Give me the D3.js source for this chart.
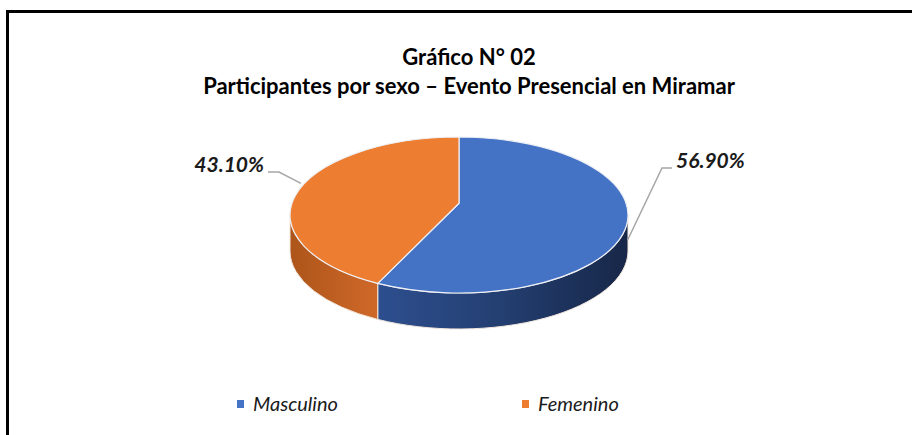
<!DOCTYPE html>
<html>
<head>
<meta charset="utf-8">
<script src="https://cdn.jsdelivr.net/npm/d3@7"></script>
<style>
  body { margin: 0; background: #fff; }
  svg { display: block; }
  text { font-family: Lato, "Open Sans", sans-serif; }
</style>
</head>
<body>
<div id="chart"></div>
<script>
// data
var categories = ["Masculino", "Femenino"];
var values = [56.9, 43.1];
var colors = ["#4472c4", "#ed7d31"];
var titleLines = ["Gráfico N° 02", "Participantes por sexo – Evento Presencial en Miramar"];

var width = 912, height = 435;

var svg = d3.select("#chart").append("svg")
    .attr("width", width)
    .attr("height", height);

// frame (only left and top visible in the crop)
svg.append("path")
    .attr("d", "M7.5," + height + "V11.5H" + width)
    .attr("fill", "none")
    .attr("stroke", "#000")
    .attr("stroke-width", 3);

// title
svg.selectAll(".title")
    .data(titleLines)
  .enter().append("text")
    .attr("class", "title")
    .attr("x", 469)
    .attr("y", function(d, i) { return 65 + i * 29; })
    .attr("text-anchor", "middle")
    .attr("font-weight", "bold")
    .attr("font-size", "22px")
    .attr("fill", "#000")
    .text(function(d) { return d; });

// pie geometry, with a little perspective (k) like the 3D pie in Excel
var cx = 459, cy = 215, rx = 169, ry = 78, depth = 36, k = 0.15;

var pie = d3.pie().sort(null).startAngle(0).endAngle(2 * Math.PI);
var arcs = pie(values);

// project an angle on the pie's circle to the screen
function proj(a) {
  var w = 1 + k * Math.cos(a);
  var X = Math.sin(a) / w, Y = -Math.cos(a) / w;
  return [cx + rx * X * Math.sqrt(1 - k * k), cy + ry * (Y * (1 - k * k) - k)];
}
// angle of a screen point on the ellipse
function param(p) {
  var t = Math.atan2((p[0] - cx) / rx, -(p[1] - cy) / ry);
  return t < 0 ? t + 2 * Math.PI : t;
}
var apex = [cx, cy - ry * k];
var sideFrom = Math.acos(-k), sideTo = 2 * Math.PI - Math.acos(-k);

var defs = svg.append("defs");
var sideGrad = [
  { x1: 380, x2: cx + rx, stops: [["0%", "#2d4e8e"], ["50%", "#233e70"], ["100%", "#172748"]] },
  { x1: cx - rx, x2: 380, stops: [["0%", "#ad551a"], ["100%", "#d0692a"]] }
];
sideGrad.forEach(function(s, i) {
  var g = defs.append("linearGradient")
      .attr("id", "side" + i)
      .attr("gradientUnits", "userSpaceOnUse")
      .attr("x1", s.x1).attr("x2", s.x2)
      .attr("y1", 0).attr("y2", 0);
  s.stops.forEach(function(st) {
    g.append("stop").attr("offset", st[0]).attr("stop-color", st[1]);
  });
});

// side walls (front half only)
var sides = svg.append("g");
arcs.forEach(function(d, i) {
  var a0 = Math.max(d.startAngle, sideFrom),
      a1 = Math.min(d.endAngle, sideTo);
  if (a1 <= a0) return;
  var p0 = proj(a0), p1 = proj(a1);
  var large = (param(p1) - param(p0) + 2 * Math.PI) % (2 * Math.PI) > Math.PI ? 1 : 0;
  var p = "M" + p0 + "A" + rx + "," + ry + " 0 " + large + " 1 " + p1 +
      "L" + p1[0] + "," + (p1[1] + depth) +
      "A" + rx + "," + ry + " 0 " + large + " 0 " + p0[0] + "," + (p0[1] + depth) + "Z";
  sides.append("path")
      .attr("d", p)
      .attr("fill", "url(#side" + i + ")")
      .attr("stroke", "#f2e6dc")
      .attr("stroke-width", 1)
      .attr("stroke-linejoin", "round");
});

// top faces
svg.append("g").selectAll("path")
    .data(arcs)
  .enter().append("path")
    .attr("d", function(d) {
      var p0 = proj(d.startAngle), p1 = proj(d.endAngle);
      var span = (param(p1) - param(p0) + 2 * Math.PI) % (2 * Math.PI);
      if (span === 0) span = 2 * Math.PI;
      var large = span > Math.PI ? 1 : 0;
      return "M" + apex + "L" + p0 + "A" + rx + "," + ry + " 0 " + large + " 1 " + p1 + "Z";
    })
    .attr("fill", function(d, i) { return colors[i]; })
    .attr("stroke", "#eef0f6")
    .attr("stroke-width", 1.2)
    .attr("stroke-linejoin", "round");

// data labels with leader lines
var fmt = function(v) { return v.toFixed(2) + "%"; };
var labelOffsets = [
  { dy: depth * 0.55, elbow: [662, 168], end: 672, anchor: "start" },
  { dy: -4, elbow: [279, 172], end: 268, anchor: "end" }
];
arcs.forEach(function(d, i) {
  var m = (d.startAngle + d.endAngle) / 2;
  var pm = proj(m);
  var o = labelOffsets[i];
  var line = d3.line();
  svg.append("path")
      .attr("d", line([[pm[0], pm[1] + o.dy], o.elbow, [o.end, o.elbow[1]]]))
      .attr("fill", "none")
      .attr("stroke", "#a6a6a6")
      .attr("stroke-width", 1.5);
  svg.append("text")
      .attr("x", i === 0 ? o.end + 4 : o.end - 4)
      .attr("y", o.elbow[1])
      .attr("text-anchor", o.anchor)
      .attr("font-size", "21px")
      .attr("font-weight", "bold")
      .attr("font-style", "italic")
      .attr("fill", "#1a1a1a")
      .text(fmt(d.data));
});

// legend
var legendX = d3.scalePoint().domain(categories).range([237, 522]);
var leg = svg.selectAll(".legend")
    .data(categories)
  .enter().append("g")
    .attr("class", "legend")
    .attr("transform", function(d) { return "translate(" + legendX(d) + ",404)"; });
leg.append("rect")
    .attr("x", 0).attr("y", -4)
    .attr("width", 7).attr("height", 8)
    .attr("fill", function(d, i) { return colors[i]; });
leg.append("text")
    .attr("x", 16)
    .attr("y", 7)
    .attr("font-size", "20px")
    .attr("font-style", "italic")
    .attr("fill", "#1a1a1a")
    .text(function(d) { return d; });
</script>
</body>
</html>
